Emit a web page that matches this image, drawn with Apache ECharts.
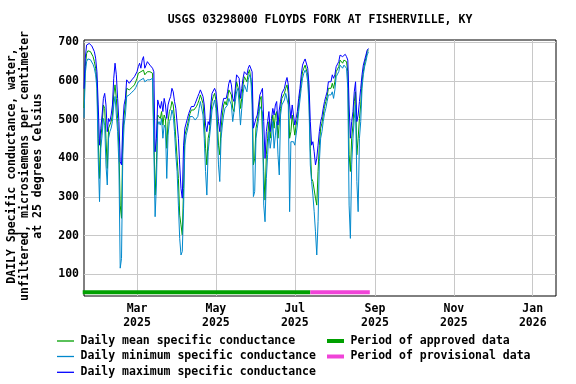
<!DOCTYPE html>
<html><head><meta charset="utf-8">
<script src="https://cdn.jsdelivr.net/npm/echarts@6/dist/echarts.min.js"></script>
<style>html,body{margin:0;padding:0;background:#fff}#c{width:576px;height:384px}</style>
</head><body><div id="c"></div>
<script>
// ---- data ----
const startDate = '2025-01-19';   // first daily value
const maxValues = [580,659,693,697,697,695,691,686,676,659,624,538,434,478,512,555,568,538,469,503,
495,512,538,607,646,616,555,495,391,383,486,538,555,603,598,594,598,603,598,611,
616,624,637,646,633,654,663,633,641,650,646,641,637,633,624,417,452,551,538,529,
547,521,555,538,503,538,551,560,581,572,547,529,525,452,383,322,297,434,478,491,
503,516,525,534,538,534,542,551,560,568,577,572,560,538,486,469,495,486,538,568,
572,581,572,538,495,469,512,538,555,560,555,572,594,603,590,555,547,581,616,620,
607,555,581,607,624,629,616,633,641,641,624,478,478,503,512,538,564,572,581,495,
400,469,495,521,469,503,529,512,538,547,486,525,547,568,572,581,598,609,590,538,
503,538,512,486,503,521,555,581,616,641,650,657,654,633,590,495,434,443,417,383,
400,434,469,495,508,529,547,560,572,598,603,598,616,607,616,637,641,650,667,669,
663,663,669,663,654,538,452,495,521,572,598,495,512,547,581,616,641,654,667,680,684];
const meanValues = [530,637,671,678,678,676,671,663,650,633,598,452,348,452,486,538,529,452,374,478,
482,495,512,564,590,555,503,426,279,245,452,512,538,581,581,577,581,583,586,590,
598,607,620,616,624,624,628,616,620,624,624,624,624,620,616,305,383,512,516,503,
521,486,512,503,426,495,521,529,547,538,503,452,452,348,253,228,202,322,460,473,
486,503,516,525,529,525,529,534,542,551,564,560,542,503,426,383,452,469,512,547,
560,568,551,503,434,409,478,512,538,547,538,555,577,581,564,529,521,564,598,603,
572,529,555,590,611,611,598,620,629,624,581,383,400,478,495,521,551,560,555,366,
292,409,452,495,452,486,512,478,512,521,452,452,529,555,560,568,581,590,568,452,
469,512,486,460,486,503,538,568,598,624,633,641,637,616,555,426,348,340,340,297,
279,366,434,478,491,512,534,547,560,581,586,581,594,581,598,624,629,637,654,659,
646,654,659,650,624,409,366,452,486,547,572,409,452,503,538,598,624,646,659,676,681];
const minValues = [505,620,650,657,659,655,650,643,633,616,581,400,288,426,460,503,486,383,331,452,
469,478,495,538,560,512,469,383,116,141,409,486,512,560,564,564,568,571,572,577,
583,590,598,600,603,607,607,598,600,603,603,603,607,607,603,249,331,486,495,486,
503,452,486,478,348,460,495,503,525,512,469,409,366,279,193,150,159,271,434,460,
473,491,508,512,508,503,499,503,508,529,547,542,512,452,366,305,417,452,486,525,
538,551,529,469,383,340,452,486,512,529,525,538,555,560,538,495,491,547,572,581,
538,486,529,568,590,594,572,603,616,607,538,301,314,452,478,503,534,538,521,279,
236,348,409,469,426,452,495,426,460,495,409,357,512,538,542,551,568,572,538,262,
443,443,443,434,460,486,521,551,581,607,620,628,620,598,538,383,340,305,262,210,
150,236,391,452,469,495,516,529,547,564,568,564,572,555,577,611,616,624,641,646,
633,641,646,633,581,279,193,383,452,503,538,340,262,452,495,581,616,637,650,667,676];
const approvedPeriod = ['2025-01-18', '2025-07-13'];
const provisionalPeriod = ['2025-07-13', '2025-08-28'];
const periodLevel = 53.5;
const xTickDates = ['2025-03-01','2025-05-01','2025-07-01','2025-09-01','2025-11-01','2026-01-01'];
const yTickValues = [100,200,300,400,500,600,700];
const monthNames = ['Jan','Feb','Mar','Apr','May','Jun','Jul','Aug','Sep','Oct','Nov','Dec'];

// ---- build ----
const DAY = 86400000;
const t0 = Date.parse(startDate);
const pairs = arr => arr.map((v, i) => [t0 + i * DAY, v]);
const xTicks = xTickDates.map(d => Date.parse(d));
const FONT = '"DejaVu Sans Mono", "Liberation Mono", monospace';
const FS = 11.5;

const chart = echarts.init(document.getElementById('c'), null, {renderer: 'canvas'});

function lineSeries(name, arr, color) {
  return {name, type: 'line', data: pairs(arr), symbol: 'none', showSymbol: false,
    lineStyle: {color, width: 1}, itemStyle: {color}, animation: false, z: 3};
}
function periodSeries(name, period, color) {
  return {name, type: 'line', data: period.map(d => [Date.parse(d), periodLevel]),
    symbol: 'none', clip: false, lineStyle: {color, width: 4, cap: 'butt'}, itemStyle: {color},
    animation: false, z: 4};
}
function legendItem(x, y, color, thick, label) {
  return [
    {type: 'rect', shape: {x: x, y: y - thick / 2, width: 17, height: thick}, style: {fill: color}},
    {type: 'text', x: x + 23.5, y: y, style: {text: label, fill: '#000', font: 'bold ' + FS + 'px ' + FONT,
      textAlign: 'left', textVerticalAlign: 'middle'}}
  ];
}

const option = {
  backgroundColor: '#fff',
  animation: false,
  grid: {left: 84, right: 20, top: 40, bottom: 88, show: true, borderColor: '#000', borderWidth: 1,
    containLabel: false, outerBoundsMode: 'none'},
  xAxis: {
    type: 'value', min: t0, max: Date.parse('2026-01-19'), scale: true,
    axisLine: {show: false}, axisTick: {show: false, customValues: xTicks},
    axisLabel: {customValues: xTicks, color: '#000', fontFamily: FONT, fontWeight: 'bold', fontSize: FS,
      lineHeight: 14, margin: 6, hideOverlap: false,
      formatter: v => { const d = new Date(v); return monthNames[d.getUTCMonth()] + '\n' + d.getUTCFullYear(); }},
    splitLine: {show: true, lineStyle: {color: '#c8c8c8', width: 1}}
  },
  yAxis: {
    type: 'value', min: 44, max: 706,
    axisLine: {show: false}, axisTick: {show: false, customValues: yTickValues},
    axisLabel: {customValues: yTickValues, color: '#000', fontFamily: FONT, fontWeight: 'bold', fontSize: FS, margin: 5},
    splitLine: {show: true, lineStyle: {color: '#c8c8c8', width: 1}}
  },
  series: [
    lineSeries('Daily mean specific conductance', meanValues, '#00a000'),
    lineSeries('Daily minimum specific conductance', minValues, '#0088cc'),
    lineSeries('Daily maximum specific conductance', maxValues, '#0000ff'),
    periodSeries('Period of approved data', approvedPeriod, '#00a000'),
    periodSeries('Period of provisional data', provisionalPeriod, '#f044d8')
  ],
  graphic: [
    {type: 'text', x: 320, y: 20, style: {text: 'USGS 03298000 FLOYDS FORK AT FISHERVILLE, KY', fill: '#000',
      font: 'bold ' + FS + 'px ' + FONT, textAlign: 'center', textVerticalAlign: 'middle'}},
    {type: 'text', x: 25, y: 166, rotation: Math.PI / 2, style: {
      text: 'DAILY Specific conductance, water,\nunfiltered, microsiemens per centimeter\nat 25 degrees Celsius',
      fill: '#000', font: 'bold ' + FS + 'px ' + FONT, lineHeight: 13, textAlign: 'center', textVerticalAlign: 'middle'}},
    ...legendItem(57, 341, '#00a000', 1.3, 'Daily mean specific conductance'),
    ...legendItem(57, 356.5, '#0088cc', 1.3, 'Daily minimum specific conductance'),
    ...legendItem(57, 372.3, '#0000ff', 1.3, 'Daily maximum specific conductance'),
    ...legendItem(327, 341, '#00a000', 4, 'Period of approved data'),
    ...legendItem(327, 356.5, '#f044d8', 4, 'Period of provisional data')
  ]
};
chart.setOption(option);
</script></body></html>
